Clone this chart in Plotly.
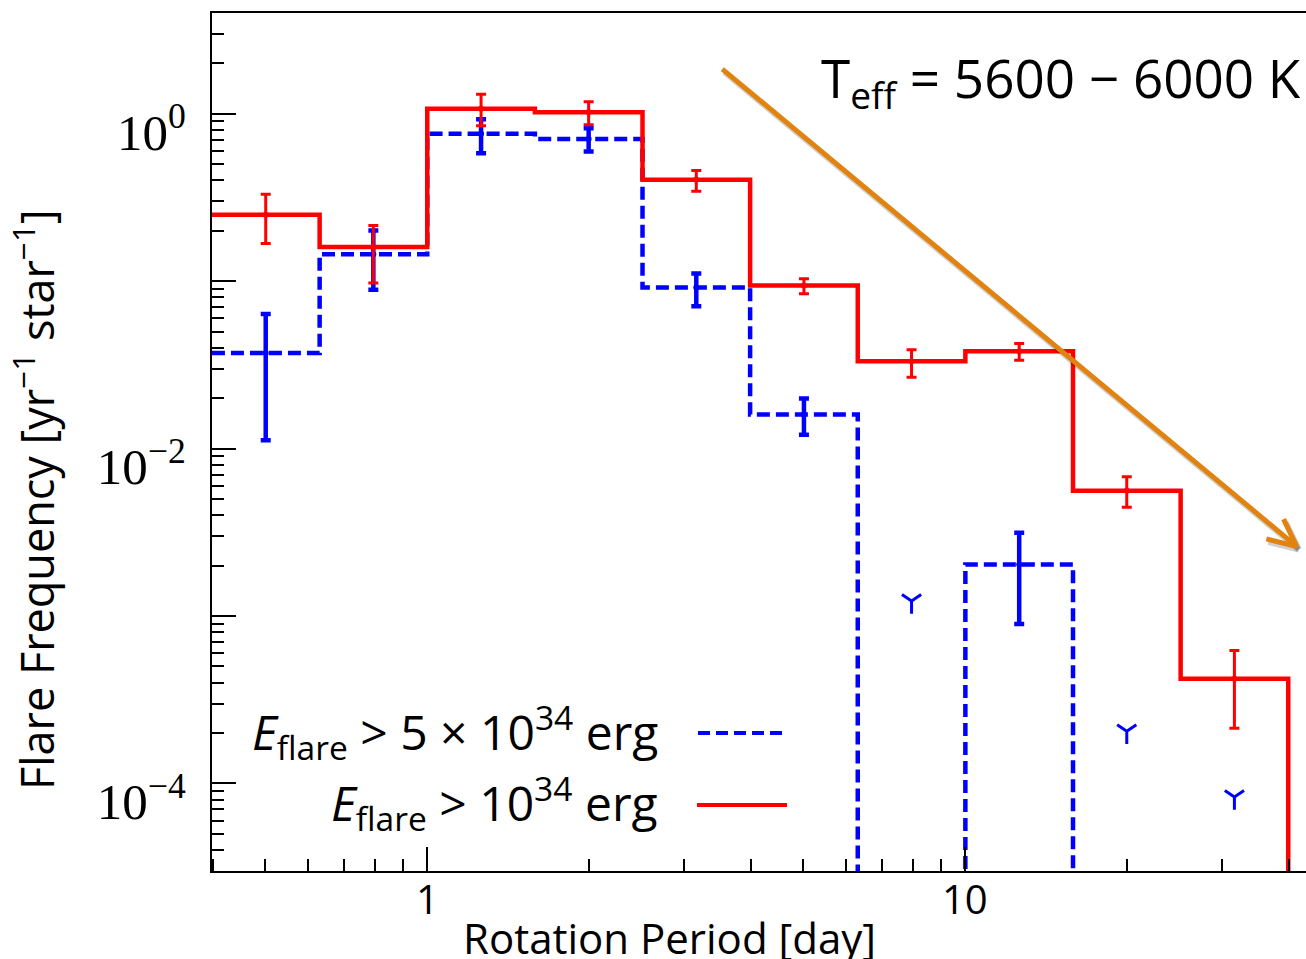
import math
import plotly.graph_objects as go

# ---------------- data ----------------
bin_edges = [0.398, 0.631, 1.0, 1.585, 2.512, 3.981, 6.310, 10.0, 15.85, 25.12, 39.81]
bin_centers = [0.501, 0.794, 1.259, 1.995, 3.162, 5.012, 7.943, 12.59, 19.95, 31.62]

# E_flare > 1e34 erg (red, solid)
red_vals = [0.249, 0.160, 1.07, 1.02, 0.404, 0.0944, 0.0332, 0.0381, 0.00561, 4.22e-4]
red_hi   = [0.331, 0.215, 1.31, 1.18, 0.459, 0.1035, 0.0390, 0.0424, 0.00678, 6.22e-4]
red_lo   = [0.168, 0.0975, 0.847, 0.859, 0.344, 0.0841, 0.0267, 0.0337, 0.00447, 2.14e-4]

# E_flare > 5e34 erg (blue, dashed); 0 = no flares in bin
blue_vals = [0.0372, 0.145, 0.760, 0.706, 0.0918, 0.0160, 0.0, 2.03e-3, 0.0, 0.0]
blue_hi   = [0.0637, 0.201, 0.929, 0.820, 0.111, 0.0199, None, 3.14e-3, None, None]
blue_lo   = [0.0112, 0.0889, 0.582, 0.596, 0.0708, 0.0121, None, 8.97e-4, None, None]

# upper limits for empty blue bins
ul_centers = [7.943, 19.95, 31.62]
ul_vals = [1.23e-3, 2.05e-4, 8.3e-5]

y_tick_vals = [1e-4, 1e-3, 1e-2, 1e-1, 1.0]
y_tick_text = ["10<sup>−4</sup>", "", "10<sup>−2</sup>", "", "10<sup>0</sup>"]
x_tick_vals = [1, 10]
x_tick_text = ["1", "10"]

# ---------------- helpers ----------------
FLOOR = 1e-9  # stands in for zero on the log axis (drawn below the plot)


def step_y(vals):
    ys = [v if v > 0 else FLOOR for v in vals]
    return ys + [FLOOR]


def err_plus(vals, hi):
    return [None if h is None else h - v for v, h in zip(vals, hi)]


def err_minus(vals, lo):
    return [None if l is None else v - l for v, l in zip(vals, lo)]


blue_pts = [v if v > 0 else None for v in blue_vals]

RED = "#FF0000"
BLUE = "#0000FF"
ORANGE = "#E2830F"
DASH = "13px,6px"

fig = go.Figure()

# blue step
fig.add_trace(go.Scatter(x=bin_edges, y=step_y(blue_vals), mode="lines",
                         line=dict(color=BLUE, width=4.5, dash=DASH, shape="hv"),
                         showlegend=False, hoverinfo="skip"))
# blue error bars
fig.add_trace(go.Scatter(x=bin_centers, y=blue_pts, mode="markers",
                         marker=dict(size=0, color=BLUE),
                         error_y=dict(type="data", symmetric=False,
                                      array=err_plus(blue_vals, blue_hi),
                                      arrayminus=err_minus(blue_vals, blue_lo),
                                      color=BLUE, thickness=4.5, width=5),
                         showlegend=False, hoverinfo="skip"))
# red step
fig.add_trace(go.Scatter(x=bin_edges, y=step_y(red_vals), mode="lines",
                         line=dict(color=RED, width=4.5, shape="hv"),
                         showlegend=False, hoverinfo="skip"))
# red error bars
fig.add_trace(go.Scatter(x=bin_centers, y=red_vals, mode="markers",
                         marker=dict(size=0, color=RED),
                         error_y=dict(type="data", symmetric=False,
                                      array=err_plus(red_vals, red_hi),
                                      arrayminus=err_minus(red_vals, red_lo),
                                      color=RED, thickness=3, width=5),
                         showlegend=False, hoverinfo="skip"))
# upper limits
fig.add_trace(go.Scatter(x=ul_centers, y=ul_vals, mode="markers",
                         marker=dict(symbol="y-down", size=16, color=BLUE,
                                     line=dict(color=BLUE, width=3)),
                         showlegend=False, hoverinfo="skip"))

minor_y = [m * 10 ** e for e in range(-5, 1) for m in range(2, 10)]
minor_x = [m * 10 ** e for e in range(-1, 2) for m in range(2, 10) if m * 10 ** e not in (1, 10)]

fig.update_xaxes(type="log", range=[-0.4, 1.633],
                 showline=True, linecolor="black", linewidth=2, mirror=True,
                 ticks="inside", ticklen=24, tickwidth=2, tickcolor="black",
                 tickmode="array", tickvals=x_tick_vals, ticktext=x_tick_text,
                 showticklabels=False,
                 minor=dict(ticks="inside", ticklen=12, tickwidth=2, tickcolor="black",
                            tickmode="array", tickvals=minor_x, showgrid=False),
                 showgrid=False, zeroline=False)
fig.update_yaxes(type="log", range=[-4.523, 0.602],
                 showline=True, linecolor="black", linewidth=2, mirror=False,
                 ticks="inside", ticklen=24, tickwidth=2, tickcolor="black",
                 tickmode="array", tickvals=y_tick_vals, ticktext=y_tick_text,
                 tickfont=dict(family="Liberation Serif", size=51, color="black"),
                 ticklabelstandoff=14, ticklabelshift=18,
                 minor=dict(ticks="inside", ticklen=12, tickwidth=2, tickcolor="black",
                            tickmode="array", tickvals=minor_y, showgrid=False),
                 showgrid=False, zeroline=False)

L, R, T, B = 212, 0, 13, 88
W, H = 1306, 959
pw, ph = W - L - R, H - T - B


def px(x):
    return (x - L) / pw


def py(y):
    return (H - B - y) / ph


annots = [
    dict(text="Rotation Period [day]", x=px(669), y=py(937), xanchor="center", yanchor="middle",
         font=dict(family="Open Sans", size=42, color="black")),
    dict(text="Flare Frequency [yr<sup>−1</sup> star<sup>−1</sup>]", x=px(34), y=py(500),
         xanchor="center", yanchor="middle", textangle=-90,
         font=dict(family="Open Sans", size=45, color="black")),
    dict(text="T<sub>eff</sub> = 5600 − 6000 K", x=px(1303), y=py(81),
         xanchor="right", yanchor="middle",
         font=dict(family="Open Sans", size=53, color="black")),
    dict(text="<i>E</i><sub>flare</sub> > 5 × 10<sup>34</sup> erg", x=px(660), y=py(732),
         xanchor="right", yanchor="middle",
         font=dict(family="Open Sans", size=48, color="black")),
    dict(text="<i>E</i><sub>flare</sub> > 10<sup>34</sup> erg", x=px(660), y=py(803),
         xanchor="right", yanchor="middle",
         font=dict(family="Open Sans", size=48, color="black")),
]
for a in annots:
    a.update(xref="paper", yref="paper", showarrow=False)

# x tick labels (log10 positions for annotations on a log axis)
for v, t in zip(x_tick_vals, x_tick_text):
    annots.append(dict(text=t, x=math.log10(v), xref="x", y=py(898), yref="paper",
                       xanchor="center", yanchor="middle", showarrow=False,
                       font=dict(family="Open Sans", size=40, color="black")))

# orange trend arrow with a soft drop shadow (log-coordinates on log axes)
tip_x, tip_y = 1.616, -2.585
tail_x, tail_y = 0.5455, 0.2746
for color, width, sx, sy in [("rgba(0,0,0,0.18)", 6, 2, -3), (ORANGE, 5, 0, 0)]:
    annots.append(dict(x=tip_x, y=tip_y, xref="x", yref="y", ax=tail_x, ay=tail_y,
                       axref="x", ayref="y", showarrow=True, arrowhead=0,
                       arrowwidth=width, arrowcolor=color, text="",
                       xshift=sx, yshift=sy))
    for dx, dy in [(-32, -8), (-14, -29)]:
        annots.append(dict(x=tip_x, y=tip_y, xref="x", yref="y", ax=dx, ay=dy,
                           showarrow=True, arrowhead=0, arrowwidth=width,
                           arrowcolor=color, text="", xshift=sx, yshift=sy))

shapes = [
    dict(type="line", xref="paper", yref="paper", x0=px(698), x1=px(785), y0=py(733), y1=py(733),
         line=dict(color=BLUE, width=4, dash="12px,6px")),
    dict(type="line", xref="paper", yref="paper", x0=px(697), x1=px(787), y0=py(805), y1=py(805),
         line=dict(color=RED, width=4)),
]

fig.update_layout(width=W, height=H, margin=dict(l=L, r=R, t=T, b=B, pad=0),
                  paper_bgcolor="white", plot_bgcolor="white",
                  font=dict(family="Open Sans", color="black"),
                  annotations=annots, shapes=shapes, showlegend=False)

fig.write_html("out.html")
